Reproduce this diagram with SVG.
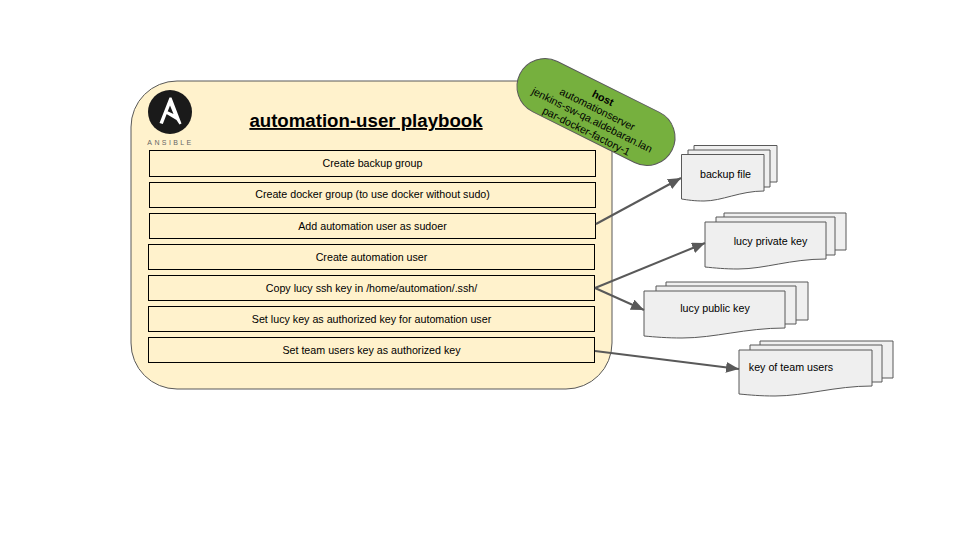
<svg xmlns="http://www.w3.org/2000/svg" width="960" height="540" viewBox="0 0 960 540">
<style>
text{font-family:"Liberation Sans",Arial,sans-serif;fill:#000;text-anchor:middle}
.step rect{fill:#fff2cc;stroke:#000;stroke-width:1}
.step text{font-size:10.7px}
.doc path{fill:#efefef;stroke:#595959;stroke-width:1}
.doc text{font-size:10.7px}
.conn{fill:none;stroke:#595959;stroke-width:2;marker-end:url(#arrow)}
</style>
<defs>
<marker id="arrow" markerUnits="userSpaceOnUse" markerWidth="14" markerHeight="12" refX="13" refY="5.5" orient="auto">
<path d="M0 0L13 5.5L0 11Z" fill="#595959"/>
</marker>
</defs>
<rect width="960" height="540" fill="#fff"/>
<g id="playbook">
<rect x="131" y="81" width="481" height="308" rx="46" ry="46" fill="#fff2cc" stroke="#595959" stroke-width="1"/>
<text x="366" y="127" font-size="18.67" font-weight="bold" text-decoration="underline">automation-user playbook</text>
</g>
<g id="ansible-logo">
<circle cx="170" cy="112" r="22" fill="#1a1a1a"/>
<path d="M169.500 97.500L159.500 123L162.800 124L170 105.500L173.500 114L165 110L164 112.500L176.500 120L179.500 124.500L181.500 123.500L171.500 97.500Z" fill="#fff"/>
<text x="170.500" y="145" font-size="7" letter-spacing="2.400" style="fill:#666">ANSIBLE</text>
</g>
<g id="step1" class="step"><rect x="149.500" y="150.500" width="446" height="26"/><text x="372.500" y="167">Create backup group</text></g>
<g id="step2" class="step"><rect x="149.500" y="182.500" width="446" height="25"/><text x="372.500" y="198">Create docker group (to use docker without sudo)</text></g>
<g id="step3" class="step"><rect x="149.500" y="213.500" width="446" height="25"/><text x="372.500" y="229.500">Add automation user as sudoer</text></g>
<g id="step4" class="step"><rect x="148.500" y="244.500" width="446" height="25"/><text x="371.500" y="260.500">Create automation user</text></g>
<g id="step5" class="step"><rect x="148.500" y="275.500" width="446" height="25"/><text x="371.500" y="291.500">Copy lucy ssh key in /home/automation/.ssh/</text></g>
<g id="step6" class="step"><rect x="148.500" y="306.500" width="446" height="25"/><text x="371.500" y="322.500">Set lucy key as authorized key for automation user</text></g>
<g id="step7" class="step"><rect x="148.500" y="337.500" width="446" height="25"/><text x="371.500" y="353.500">Set team users key as authorized key</text></g>
<g id="host" transform="translate(596 112) rotate(26.500)">
<rect x="-85" y="-28" width="170" height="56" rx="28" ry="28" fill="#76b03e" stroke="#595959" stroke-width="1"/>
<text x="0" y="-12" font-size="10.700" font-weight="bold">host</text>
<text x="0" y="0.500" font-size="10.700">automationserver</text>
<text x="0" y="12.500" font-size="10.700">jenkins-sw-qa.aldebaran.lan</text>
<text x="0" y="25" font-size="10.700">par-docker-factory-1</text>
</g>
<g id="backup-file" class="doc">
<path d="M694 145.500H777V182H694Z"/>
<path d="M688 150H770V187H688Z"/>
<path d="M681.500 154.500H764V191C740 191 722 201 704 201C694 201 688 200 681.500 199Z"/>
<text x="725.500" y="178">backup file</text>
</g>
<g id="lucy-private-key" class="doc">
<path d="M724 213H846V250H724Z"/>
<path d="M716 217H835V255H716Z"/>
<path d="M705 222H826V259C790 259 765 269 738 269C725 269 715 268 705 267Z"/>
<text x="770.500" y="245">lucy private key</text>
</g>
<g id="lucy-public-key" class="doc">
<path d="M666 282H808V320H666Z"/>
<path d="M656 286H796V324H656Z"/>
<path d="M644 291H785V328C745 328 715 338 682 338C667 338 655 337 644 336Z"/>
<text x="715" y="312">lucy public key</text>
</g>
<g id="team-users-key" class="doc">
<path d="M760 341H893V378H760Z"/>
<path d="M750 345H882V382H750Z"/>
<path d="M739 350H872V386C835 386 805 396 775 396C760 396 750 395 739 394Z"/>
<text x="791" y="371">key of team users</text>
</g>
<g id="connectors">
<path class="conn" d="M596 224L681 178"/>
<path class="conn" d="M595 288L705 243"/>
<path class="conn" d="M595 288L644 310"/>
<path class="conn" d="M595 351L739 369"/>
</g>
</svg>
